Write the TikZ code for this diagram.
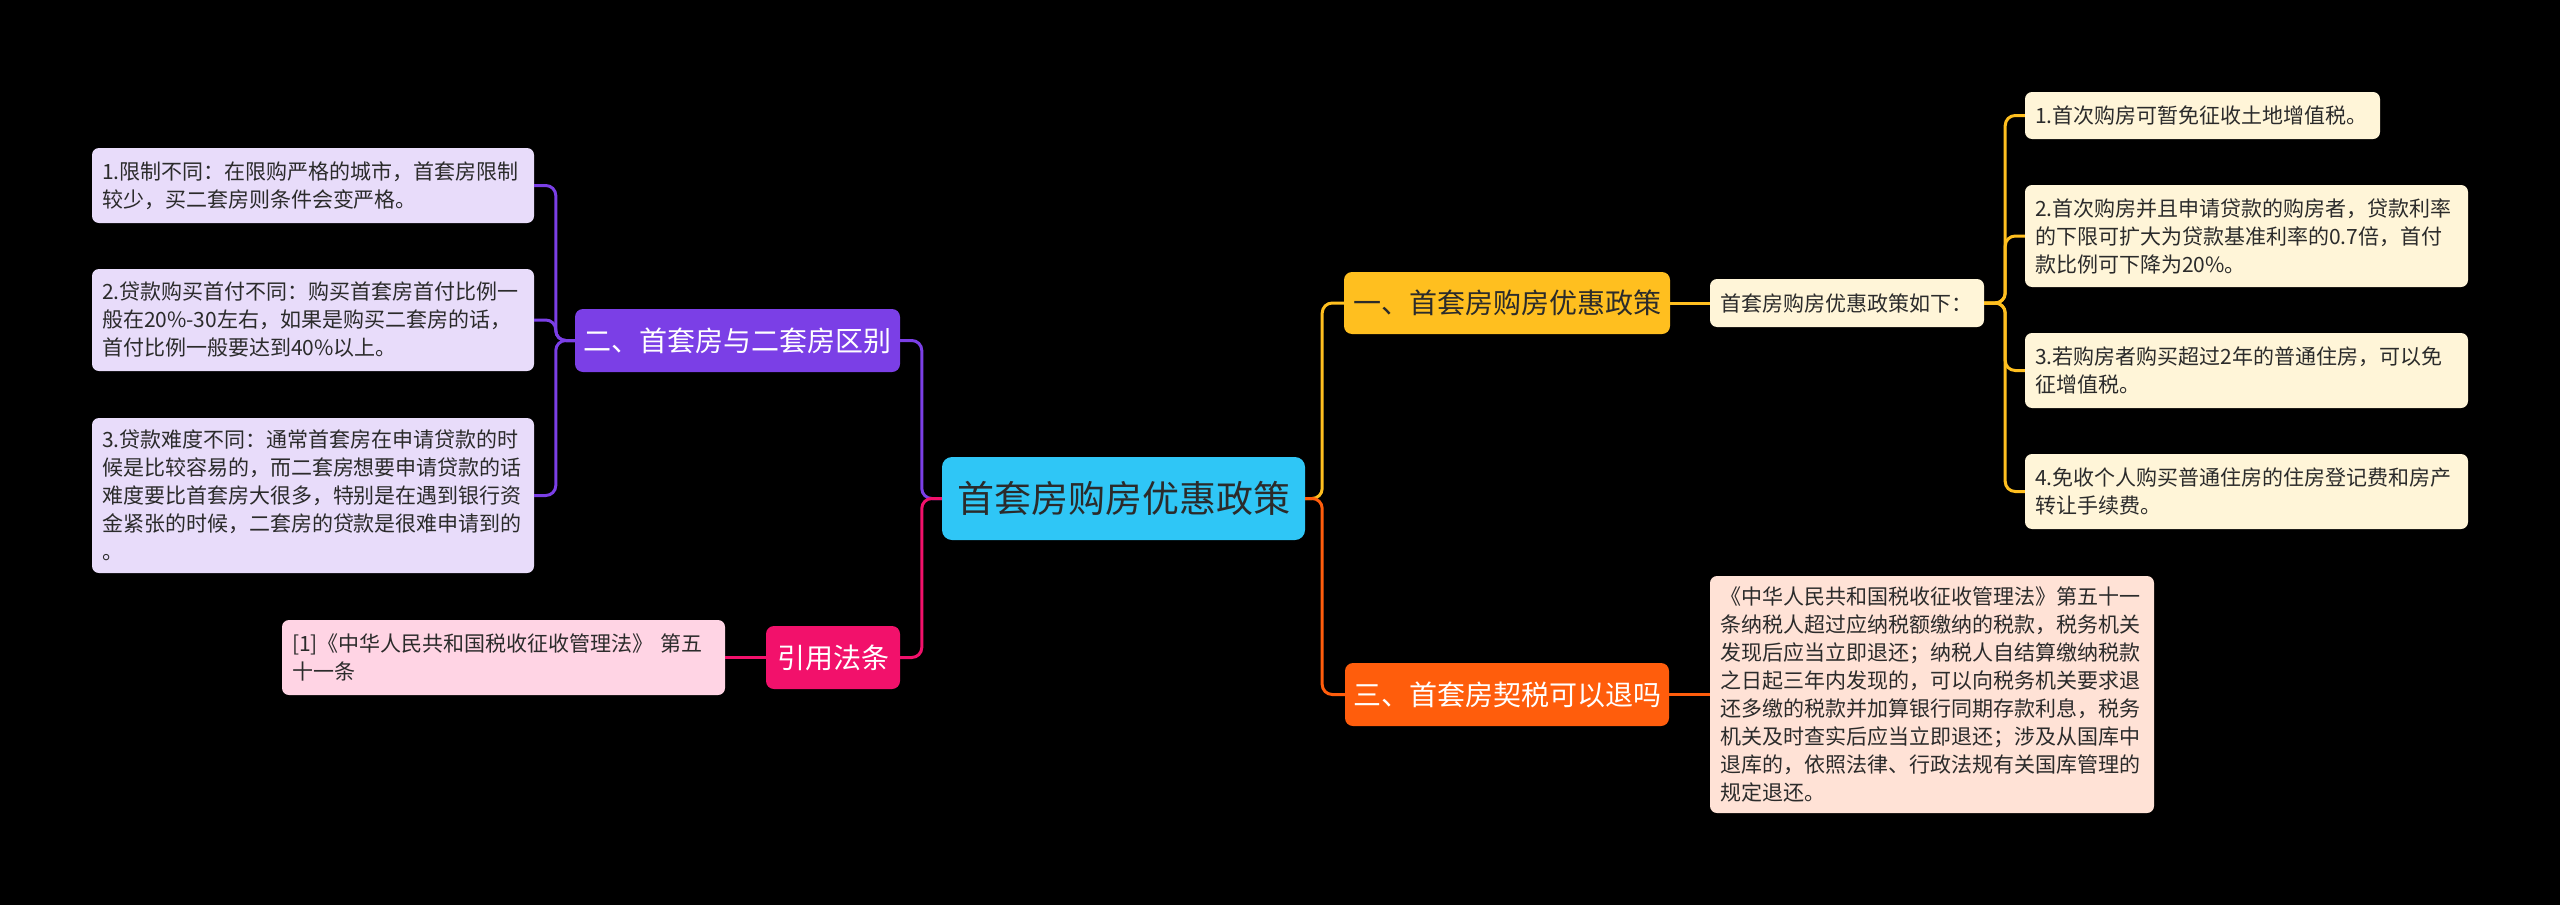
\documentclass[tikz,border=0pt]{standalone}
\usepackage{fontspec}
\setmainfont{Noto Sans CJK SC}
\definecolor{rootfill}{HTML}{2FC6F6}
\definecolor{goldfill}{HTML}{FFBF1F}
\definecolor{creamfill}{HTML}{FFF5D8}
\definecolor{orangefill}{HTML}{FF5D0C}
\definecolor{peachfill}{HTML}{FFE2D6}
\definecolor{purplefill}{HTML}{7B3FE6}
\definecolor{lavenderfill}{HTML}{E8DCFA}
\definecolor{crimsonfill}{HTML}{F2116B}
\definecolor{pinkfill}{HTML}{FFD4E4}
\definecolor{textdark}{HTML}{2B2B2B}
\tikzset{
  topic/.style={rounded corners=10pt, fill=rootfill, text=textdark, minimum width=363pt, minimum height=83pt, font=\fontsize{37}{44}\selectfont},
  branch/.style={rounded corners=8pt, minimum height=63pt, font=\fontsize{28}{34}\selectfont},
  leaf/.style={rounded corners=7pt, inner xsep=10pt, align=left, text=textdark, font=\fontsize{21}{28}\selectfont},
  link/.style={line width=3pt, rounded corners=10pt}
}
\begin{document}
\begin{tikzpicture}[x=1pt, y=-1pt]
\fill[black] (0,0) rectangle (2560,905);
\useasboundingbox (0,0) rectangle (2560,905);
% centre
\node[topic] (root) at (1123.5,498.5) {首套房购房优惠政策};
% right side
\node[branch, fill=goldfill, text=textdark, minimum width=326pt, minimum height=62pt] (first) at (1507,303) {一、首套房购房优惠政策};
\node[leaf, fill=creamfill, text width=254pt, minimum height=48pt] (firstintro) at (1847,303) {首套房购房优惠政策如下：};
\node[leaf, fill=creamfill, text width=335pt, minimum height=47pt] (firstA) at (2202.5,115.5) {1.首次购房可暂免征收土地增值税。};
\node[leaf, fill=creamfill, text width=423pt, minimum height=102pt] (firstB) at (2246.5,236) {2.首次购房并且申请贷款的购房者，贷款利率\\的下限可扩大为贷款基准利率的0.7倍，首付\\款比例可下降为20\%。};
\node[leaf, fill=creamfill, text width=423pt, minimum height=75pt] (firstC) at (2246.5,370.5) {3.若购房者购买超过2年的普通住房，可以免\\征增值税。};
\node[leaf, fill=creamfill, text width=423pt, minimum height=75pt] (firstD) at (2246.5,491.5) {4.免收个人购买普通住房的住房登记费和房产\\转让手续费。};
\node[branch, fill=orangefill, text=white, minimum width=324pt] (third) at (1507,694.5) {三、首套房契税可以退吗};
\node[leaf, fill=peachfill, text width=424pt, minimum height=237pt] (thirdA) at (1932,694.5) {《中华人民共和国税收征收管理法》第五十一\\条纳税人超过应纳税额缴纳的税款，税务机关\\发现后应当立即退还；纳税人自结算缴纳税款\\之日起三年内发现的，可以向税务机关要求退\\还多缴的税款并加算银行同期存款利息，税务\\机关及时查实后应当立即退还；涉及从国库中\\退库的，依照法律、行政法规有关国库管理的\\规定退还。};
% left side
\node[branch, fill=purplefill, text=white, minimum width=325pt] (second) at (737.5,340.5) {二、首套房与二套房区别};
\node[leaf, fill=lavenderfill, text width=422pt, minimum height=75pt] (secondA) at (313,185.5) {1.限制不同：在限购严格的城市，首套房限制\\较少，买二套房则条件会变严格。};
\node[leaf, fill=lavenderfill, text width=422pt, minimum height=102pt] (secondB) at (313,320) {2.贷款购买首付不同：购买首套房首付比例一\\般在20\%-30左右，如果是购买二套房的话，\\首付比例一般要达到40\%以上。};
\node[leaf, fill=lavenderfill, text width=422pt, minimum height=155pt] (secondC) at (313,495.5) {3.贷款难度不同：通常首套房在申请贷款的时\\候是比较容易的，而二套房想要申请贷款的话\\难度要比首套房大很多，特别是在遇到银行资\\金紧张的时候，二套房的贷款是很难申请到的\\。};
\node[branch, fill=crimsonfill, text=white, minimum width=134pt] (cite) at (833,657.5) {引用法条};
\node[leaf, fill=pinkfill, text width=423pt, minimum height=75pt] (citeA) at (503.5,657.5) {[1]《中华人民共和国税收征收管理法》 第五\\十一条};
% connectors
\draw[link, goldfill] (root.east) -- ++(17,0) |- (first.west);
\draw[link, orangefill] (root.east) -- ++(17,0) |- (third.west);
\draw[link, purplefill] (root.west) -- ++(-20,0) |- (second.east);
\draw[link, crimsonfill] (root.west) -- ++(-20,0) |- (cite.east);
\draw[link, goldfill] (first.east) -- (firstintro.west);
\foreach \n in {firstA,firstB,firstC,firstD} \draw[link, goldfill] (firstintro.east) -- ++(21,0) |- (\n.west);
\draw[link, orangefill] (third.east) -- (thirdA.west);
\foreach \n in {secondA,secondB,secondC} \draw[link, purplefill] (second.west) -- ++(-19,0) |- (\n.east);
\draw[link, crimsonfill] (cite.west) -- (citeA.east);
\end{tikzpicture}
\end{document}
